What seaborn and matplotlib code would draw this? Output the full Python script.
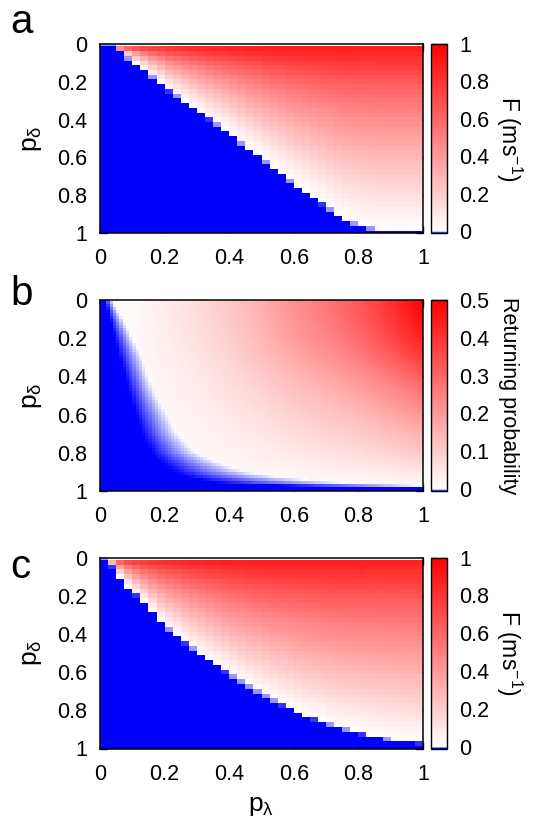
import numpy as np
import pandas as pd
import seaborn as sns
import matplotlib
matplotlib.use("Agg")
import matplotlib.pyplot as plt
from matplotlib.colors import LinearSegmentedColormap
from matplotlib.ticker import FixedLocator

sns.set_theme(style="white")
plt.rcParams['font.family'] = ['Liberation Sans', 'DejaVu Sans']
plt.rcParams['mathtext.fontset'] = 'custom'
plt.rcParams['mathtext.rm'] = 'Liberation Sans'
plt.rcParams['mathtext.it'] = 'Liberation Sans'
plt.rcParams['mathtext.sf'] = 'Liberation Sans'
plt.rcParams['text.color'] = 'black'

# ---------------- data ----------------
axis_ticks = [0, 0.2, 0.4, 0.6, 0.8, 1]
axis_tick_labels = ["0", "0.2", "0.4", "0.6", "0.8", "1"]
f_cbar_ticks = [0, 0.2, 0.4, 0.6, 0.8, 1]
f_cbar_labels = ["0", "0.2", "0.4", "0.6", "0.8", "1"]
f_cbar_minor = [0.1, 0.3, 0.5, 0.7, 0.9]
r_cbar_ticks = [0, 0.1, 0.2, 0.3, 0.4, 0.5]
r_cbar_labels = ["0", "0.1", "0.2", "0.3", "0.4", "0.5"]
r_cbar_minor = [0.05, 0.15, 0.25, 0.35, 0.45]

# panel a: p_delta where F crosses zero, one value per p_lambda column (40 columns)
a_boundary = [0.00, 0.00, 0.03, 0.07, 0.10, 0.13, 0.17, 0.20, 0.24, 0.27,
              0.30, 0.33, 0.36, 0.39, 0.42, 0.45, 0.48, 0.52, 0.55, 0.58,
              0.62, 0.65, 0.68, 0.72, 0.75, 0.78, 0.81, 0.84, 0.87, 0.90,
              0.925, 0.945, 0.96, 0.97, 0.985, 0.985, 0.985, 0.985, 0.985, 0.985]
# panel a: F in the first row below p_delta = 0
a_top = [0.0, 0.0, 0.45, 0.60, 0.68, 0.72, 0.75, 0.77, 0.79, 0.80,
         0.81, 0.82, 0.83, 0.84, 0.85, 0.85, 0.86, 0.86, 0.87, 0.87,
         0.88, 0.88, 0.88, 0.88, 0.88, 0.88, 0.88, 0.88, 0.88, 0.88,
         0.88, 0.88, 0.87, 0.87, 0.87, 0.87, 0.87, 0.87, 0.87, 0.87]
# panel a: share of the top value left at a relative depth between top row and boundary
a_depth = [0.0, 0.2, 0.4, 0.6, 0.8, 1.0]
a_decay = [1.0, 0.72, 0.50, 0.32, 0.15, 0.0]

# panel c
c_boundary = [0.00, 0.04, 0.10, 0.15, 0.19, 0.23, 0.28, 0.33, 0.37, 0.40,
              0.44, 0.47, 0.50, 0.53, 0.56, 0.59, 0.62, 0.645, 0.67, 0.695,
              0.72, 0.745, 0.765, 0.785, 0.805, 0.825, 0.84, 0.855, 0.87, 0.885,
              0.895, 0.905, 0.915, 0.925, 0.935, 0.945, 0.95, 0.955, 0.96, 0.965]
c_top = [0.0, 0.30, 0.60, 0.70, 0.75, 0.78, 0.80, 0.81, 0.82, 0.83,
         0.84, 0.85, 0.85, 0.86, 0.86, 0.87, 0.87, 0.87, 0.88, 0.88,
         0.88, 0.88, 0.88, 0.88, 0.88, 0.88, 0.88, 0.88, 0.88, 0.88,
         0.88, 0.88, 0.88, 0.87, 0.87, 0.87, 0.87, 0.87, 0.87, 0.87]
c_depth = [0.0, 0.2, 0.4, 0.6, 0.8, 1.0]
c_decay = [1.0, 0.75, 0.54, 0.36, 0.18, 0.0]

# panel b: returning probability, read at anchor points
b_x_anchor = [0.0, 0.1, 0.2, 0.3, 0.4, 0.5, 0.6, 0.7, 0.8, 0.9, 1.0]
b_top = [0.0, 0.01, 0.04, 0.07, 0.11, 0.16, 0.22, 0.27, 0.33, 0.41, 0.50]
b_y_anchor = [0.0, 0.1, 0.2, 0.3, 0.4, 0.5, 0.6, 0.7, 0.8, 0.9, 1.0]
b_frac = [1.0, 0.95, 0.88, 0.77, 0.64, 0.52, 0.41, 0.31, 0.21, 0.10, 0.0]
b_edge_y = [0.0, 0.1, 0.2, 0.3, 0.4, 0.5, 0.6, 0.7, 0.8, 0.85, 0.9, 0.93, 0.953, 0.969, 0.984, 1.0]
b_sat_x = [0.015, 0.03, 0.046, 0.06, 0.077, 0.093, 0.11, 0.13, 0.16, 0.19, 0.23, 0.28, 0.35, 0.55, 1.2, 1.2]
b_white_x = [0.035, 0.07, 0.10, 0.13, 0.15, 0.175, 0.21, 0.24, 0.30, 0.37, 0.46, 0.58, 0.75, 1.0, 1.3, 1.3]


def threshold_grid(boundary, top, depth, decay, nrows=41):
    B = np.array(boundary)[None, :]
    T = np.array(top)[None, :]
    Y = (np.arange(nrows) / (nrows - 1))[:, None]
    s = np.clip((Y - 0.025) / np.maximum(B - 0.025, 1e-3), 0, 1)
    pos = T * np.interp(s, depth, decay)
    neg = -0.8 * (Y - B)
    F = np.where(Y < B, pos, neg)
    F[0, :] = np.where(B[0] < 0.025, -0.004, 0.0)
    return F


def returning_grid(ncols=100, nrows=65):
    xb = (np.arange(ncols) + 0.5) / ncols
    yb = np.arange(nrows) / (nrows - 1)
    top_i = np.interp(xb, b_x_anchor, b_top)
    frac_i = np.interp(yb, b_y_anchor, b_frac)
    R = frac_i[:, None] * top_i[None, :]
    sat = np.interp(yb, b_edge_y, b_sat_x)[:, None]
    white = np.interp(yb, b_edge_y, b_white_x)[:, None]
    t = np.clip((white - xb[None, :]) / (white - sat), 0, 1)
    return np.where(xb[None, :] < white, -0.005 * t, R)


def make_cmap(eps, vmax):
    return LinearSegmentedColormap.from_list(
        "bwr_gp", [(0.0, "#0000ff"), (eps / (vmax + eps), "#ffffff"), (1.0, "#ff0000")], N=8192)


F_a = threshold_grid(a_boundary, a_top, a_depth, a_decay)
F_c = threshold_grid(c_boundary, c_top, c_depth, c_decay)
R_b = returning_grid()

# ---------------- figure ----------------
W_PX, H_PX = 542, 825
fig = plt.figure(figsize=(W_PX / 100, H_PX / 100), dpi=100)
L, W = 100 / W_PX, 323 / W_PX
CL, CW = 431 / W_PX, 16 / W_PX

panels = [
    dict(data=F_a, top=44, bot=233, eps=0.01, vmax=1.0, cticks=f_cbar_ticks, clabels=f_cbar_labels,
         cminor=f_cbar_minor, clabel=r"F (ms$^{\mathregular{-1}}$)", letter="a", lety=22),
    dict(data=R_b, top=300, bot=491, eps=0.005, vmax=0.5, cticks=r_cbar_ticks, clabels=r_cbar_labels,
         cminor=r_cbar_minor, clabel="Returning probability", letter="b", lety=294),
    dict(data=F_c, top=557.5, bot=748.5, eps=0.01, vmax=1.0, cticks=f_cbar_ticks, clabels=f_cbar_labels,
         cminor=f_cbar_minor, clabel=r"F (ms$^{\mathregular{-1}}$)", letter="c", lety=567),
]

FS = 15.5
for pnl in panels:
    data = pnl["data"]
    nr, nc = data.shape
    bottom = (H_PX - pnl["bot"]) / H_PX
    height = (pnl["bot"] - pnl["top"]) / H_PX
    ax = fig.add_axes([L, bottom, W, height])
    cax = fig.add_axes([CL, bottom, CW, height])
    df = pd.DataFrame(data)
    sns.heatmap(df, ax=ax, cbar_ax=cax, cmap=make_cmap(pnl["eps"], pnl["vmax"]),
                vmin=-pnl["eps"], vmax=pnl["vmax"], xticklabels=False, yticklabels=False)
    ax.set_xlim(0, nc)
    ax.set_ylim(nr - 0.5, 0.5)
    ax.set_xticks([p * nc for p in axis_ticks])
    ax.set_xticklabels(axis_tick_labels)
    ax.set_yticks([0.5 + p * (nr - 1) for p in axis_ticks])
    ax.set_yticklabels(axis_tick_labels, rotation=0)
    ax.set_xlabel("")
    ax.set_ylabel("")
    for s in ax.spines.values():
        s.set_visible(True)
        s.set_color("black")
        s.set_linewidth(1.1)
    ax.tick_params(direction="in", length=5, width=1, color="black", top=True, right=True,
                   bottom=True, left=True, labelsize=FS, labelcolor="black")
    ax.tick_params(axis="x", pad=11)
    ax.tick_params(axis="y", pad=9)

    cb = ax.collections[0].colorbar
    cb.outline.set_linewidth(1.0)
    cb.outline.set_edgecolor("black")
    cb.set_ticks(pnl["cticks"])
    cb.set_ticklabels(pnl["clabels"])
    cax.yaxis.set_minor_locator(FixedLocator(pnl["cminor"]))
    cax.tick_params(which="both", direction="in", left=True, right=True, length=5, width=1,
                    color="black", labelsize=FS, labelcolor="black", pad=9)

    cy = 1 - (pnl["top"] + pnl["bot"]) / 2 / H_PX
    fig.text(509 / W_PX, cy, pnl["clabel"], rotation=270, ha="center", va="center",
             fontsize=FS if pnl["letter"] == "b" else 16.5, color="black")
    fig.text(32 / W_PX, cy, r"p$_{\mathregular{δ}}$", rotation=90, ha="center", va="center",
             fontsize=19, color="black")
    fig.text(10 / W_PX, 1 - pnl["lety"] / H_PX, pnl["letter"], ha="left", va="center",
             fontsize=29, color="black")

fig.text((100 + 323 / 2) / W_PX, 1 - 806 / H_PX, r"p$_{\mathregular{λ}}$", ha="center", va="center",
         fontsize=19, color="black")

fig.savefig("out.png", dpi=100)
